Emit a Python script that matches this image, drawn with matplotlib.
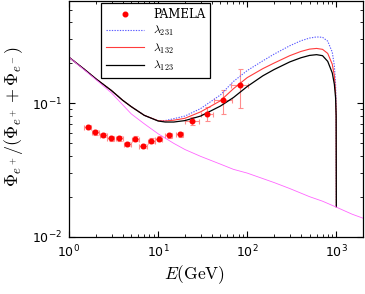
import matplotlib
matplotlib.use("Agg")
import matplotlib.pyplot as plt
from matplotlib.ticker import LogLocator, FuncFormatter, NullFormatter
import numpy as np

# PAMELA positron fraction
pam_E = [1.62, 1.98, 2.41, 2.96, 3.67, 4.52, 5.56, 6.78, 8.35, 10.2, 13.2, 17.5, 24.1, 35.2, 53.3, 82.8]
pam_E_lo = [1.48, 1.80, 2.20, 2.70, 3.35, 4.12, 5.07, 6.18, 7.61, 9.3, 12.0, 16.0, 20.0, 30.0, 42.0, 65.0]
pam_E_hi = [1.78, 2.17, 2.64, 3.24, 4.02, 4.95, 6.09, 7.43, 9.15, 11.2, 14.5, 19.2, 29.0, 41.0, 67.0, 103.0]
pam_f = [0.0665, 0.0604, 0.0577, 0.0545, 0.0545, 0.0494, 0.0542, 0.0477, 0.0524, 0.0542, 0.0577, 0.0584, 0.0734, 0.0828, 0.105, 0.136]
pam_f_lo = [0.064, 0.058, 0.0555, 0.0525, 0.0525, 0.0475, 0.052, 0.0458, 0.0503, 0.052, 0.0553, 0.0558, 0.0685, 0.0735, 0.0824, 0.0923]
pam_f_hi = [0.069, 0.063, 0.060, 0.0566, 0.0566, 0.0514, 0.0565, 0.0497, 0.0545, 0.0565, 0.0602, 0.061, 0.0785, 0.093, 0.126, 0.181]

# model curves
E = [1, 1.5, 2, 3, 4, 5, 7, 10, 12, 15, 20, 30, 50, 70, 100, 150, 200, 300, 400, 500, 600, 700, 800, 900, 950, 980, 995, 1000]
lam123 = [0.22, 0.178, 0.152, 0.124, 0.105, 0.094, 0.081, 0.0735, 0.0722, 0.0722, 0.074, 0.080, 0.095, 0.110, 0.133, 0.160, 0.178, 0.203, 0.218, 0.227, 0.230, 0.226, 0.205, 0.168, 0.138, 0.11, 0.08, 0.0168]
lam132 = [0.22, 0.178, 0.152, 0.124, 0.105, 0.094, 0.081, 0.0738, 0.0735, 0.0745, 0.077, 0.086, 0.104, 0.128, 0.155, 0.181, 0.199, 0.226, 0.243, 0.253, 0.256, 0.252, 0.235, 0.195, 0.16, 0.12, 0.08, 0.0168]
lam231 = [0.22, 0.178, 0.152, 0.124, 0.105, 0.094, 0.081, 0.074, 0.074, 0.0765, 0.080, 0.091, 0.115, 0.145, 0.175, 0.207, 0.232, 0.268, 0.292, 0.306, 0.312, 0.310, 0.29, 0.24, 0.19, 0.14, 0.09, 0.0168]

# background
E_bg = [1, 1.5, 2, 3, 5, 7, 10, 15, 20, 30, 50, 70, 100, 200, 300, 500, 700, 1000, 1500, 2000]
bg = [0.22, 0.176, 0.150, 0.119, 0.083, 0.070, 0.059, 0.050, 0.045, 0.040, 0.035, 0.032, 0.030, 0.0255, 0.023, 0.020, 0.0185, 0.0167, 0.0148, 0.0138]

fig = plt.figure(figsize=(3.65, 2.94), dpi=100)
ax = fig.add_axes([0.189, 0.194, 0.806, 0.803])

xerr = [np.array(pam_E) - np.array(pam_E_lo), np.array(pam_E_hi) - np.array(pam_E)]
yerr = [np.array(pam_f) - np.array(pam_f_lo), np.array(pam_f_hi) - np.array(pam_f)]
ax.errorbar(pam_E, pam_f, xerr=xerr, yerr=yerr, fmt="none", ecolor="#ff8c8c",
            elinewidth=0.8, capsize=1.8, capthick=0.8, zorder=2)
ax.plot(pam_E, pam_f, "o", color="red", ms=3.3, mec="red", label="PAMELA", zorder=4)

ax.plot(E, lam231, color="#5a5aff", lw=0.8, ls=(0, (1.2, 1.2)), label=r"$\lambda_{231}$")
ax.plot(E, lam132, color="#ff3c3c", lw=0.8, label=r"$\lambda_{132}$")
ax.plot(E, lam123, color="black", lw=0.9, label=r"$\lambda_{123}$")
ax.plot(E_bg, bg, color="#ff66ff", lw=0.6)

ax.set_xscale("log")
ax.set_yscale("log")
ax.set_xlim(1, 2000)
ax.set_ylim(0.01, 0.58)

ax.xaxis.set_major_locator(LogLocator(base=10))
ax.yaxis.set_major_locator(LogLocator(base=10))
fmt = FuncFormatter(lambda v, p: r"$\mathregular{10^{%d}}$" % round(np.log10(v)))
ax.xaxis.set_major_formatter(fmt)
ax.yaxis.set_major_formatter(fmt)
ax.xaxis.set_minor_formatter(NullFormatter())
ax.yaxis.set_minor_formatter(NullFormatter())
ax.tick_params(which="both", direction="in", top=True, right=True, labelsize=9)
ax.tick_params(which="major", length=4, pad=5)
ax.tick_params(which="minor", length=2)
for sp in ax.spines.values():
    sp.set_linewidth(0.9)

ax.set_xlabel(r"$E(\mathrm{GeV})$", fontsize=12.5, math_fontfamily="cm")
ax.xaxis.set_label_coords(0.427, -0.11)
ax.set_ylabel(r"$\Phi_{e^+}/(\Phi_{e^+}+\Phi_{e^-})$", fontsize=13, math_fontfamily="cm")
ax.yaxis.set_label_coords(-0.15, 0.51)

leg = ax.legend(loc="upper left", bbox_to_anchor=(0.109, 0.99), borderaxespad=0,
                fancybox=False, edgecolor="black", framealpha=1, handlelength=3.2,
                prop={"family": "serif", "size": 8.5}, labelspacing=0.28, numpoints=1)
leg.get_frame().set_linewidth(0.9)
for t in leg.get_texts():
    t.set_math_fontfamily("cm")

fig.savefig("out.png", dpi=100)
